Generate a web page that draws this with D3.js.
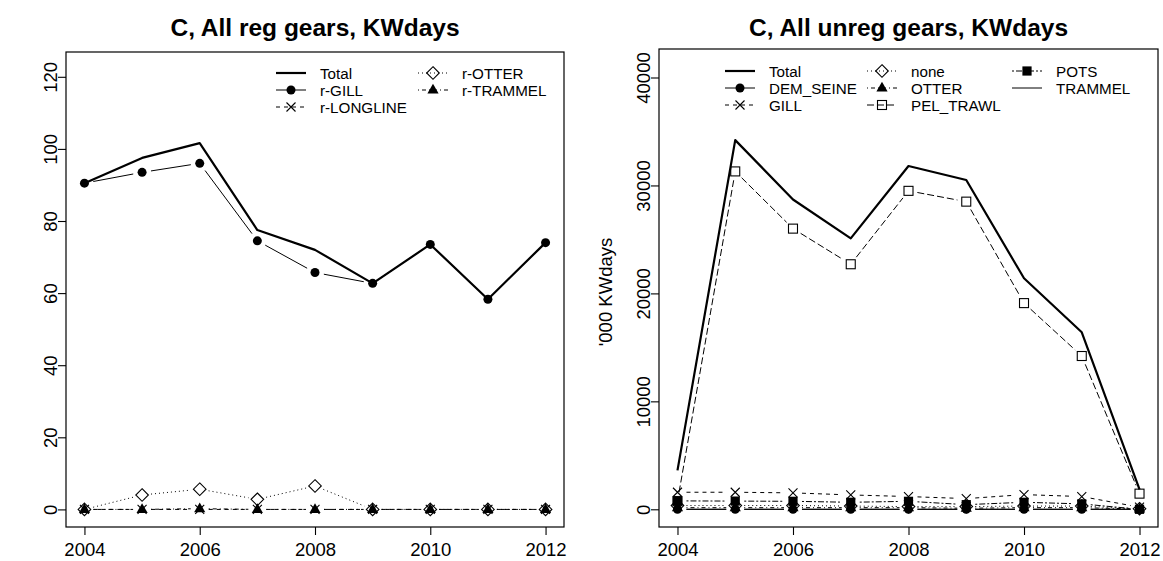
<!DOCTYPE html>
<html><head><meta charset="utf-8">
<script src="https://cdn.jsdelivr.net/npm/d3@7"></script>
<style>body{margin:0;background:#fff} svg{display:block} text{font-family:"Liberation Sans",Arial,sans-serif;fill:#000}</style>
</head><body>
<svg id="c" width="1163" height="561"></svg>
<script>
// ---------- data ----------
const years = [2004, 2005, 2006, 2007, 2008, 2009, 2010, 2011, 2012];
const xTicks = [2004, 2006, 2008, 2010, 2012];

// left panel: regulated gears ('000 KWdays)
const regTotal    = [90.5, 97.5, 101.6, 77.5, 72.0, 62.7, 73.5, 58.3, 74.0];
const regGill     = [90.5, 93.5, 96.0, 74.5, 65.7, 62.7, 73.5, 58.3, 74.0];
const regLongline = [0, 0, 0, 0, 0, 0, 0, 0, 0];
const regOtter    = [0, 4.0, 5.6, 2.8, 6.5, 0, 0, 0, 0];
const regTrammel  = [0, 0, 0.2, 0, 0, 0, 0, 0, 0];
const regYTicks = [0, 20, 40, 60, 80, 100, 120];

// right panel: unregulated gears ('000 KWdays)
const unregTotal    = [3600, 34200, 28700, 25100, 31800, 30500, 21400, 16400, 1850];
const unregDemSeine = [0, 0, 0, 0, 0, 0, 0, 0, 0];
const unregGill     = [1580, 1580, 1520, 1330, 1180, 990, 1360, 1180, 200];
const unregNone     = [350, 350, 350, 300, 250, 250, 300, 300, 50];
const unregOtter    = [150, 150, 150, 150, 150, 100, 150, 150, 30];
const unregPelTrawl = [750, 31300, 26000, 22700, 29500, 28500, 19100, 14200, 1450];
const unregPots     = [780, 760, 740, 650, 740, 430, 650, 500, 0];
const unregTrammel  = [0, 0, 0, 0, 0, 0, 0, 0, 0];
const unregYTicks = [0, 10000, 20000, 30000, 40000];

// ---------- styles ----------
const LTY = {1: null, 2: "4,4", 3: "1,3", 4: "1,3,4,3", 5: "7,3", 6: "2,2,6,2"};

const svg = d3.select("#c");

function marker(g, type, x, y) {
  if (!type) return;
  if (type === "dot") g.append("circle").attr("cx", x).attr("cy", y).attr("r", 4.5).attr("fill", "#000");
  else if (type === "x") g.append("path").attr("d", `M${x-4.5},${y-4.5}L${x+4.5},${y+4.5}M${x-4.5},${y+4.5}L${x+4.5},${y-4.5}`).attr("stroke", "#000").attr("stroke-width", 1.1).attr("fill", "none");
  else if (type === "diamond") g.append("path").attr("d", `M${x},${y-6.3}L${x+6.3},${y}L${x},${y+6.3}L${x-6.3},${y}Z`).attr("stroke", "#000").attr("stroke-width", 1.1).attr("fill", "none");
  else if (type === "tri") g.append("path").attr("d", `M${x},${y-6.2}L${x+5.6},${y+3.6}L${x-5.6},${y+3.6}Z`).attr("fill", "#000");
  else if (type === "square") g.append("rect").attr("x", x-4.5).attr("y", y-4.5).attr("width", 9).attr("height", 9).attr("stroke", "#000").attr("stroke-width", 1.1).attr("fill", "none");
  else if (type === "fsquare") g.append("rect").attr("x", x-4.6).attr("y", y-4.6).attr("width", 9.2).attr("height", 9.2).attr("fill", "#000");
}

function panel(cfg) {
  const {left, right, top, bottom, ymax, yTicks, series, title, ylab, legend} = cfg;
  const xr = 2012 - 2004, yr = ymax;
  const x = d3.scaleLinear().domain([2004 - 0.04*xr, 2012 + 0.04*xr]).range([left, right]);
  const y = d3.scaleLinear().domain([-0.04*yr, ymax + 0.04*yr]).range([bottom, top]);
  const g = svg.append("g");

  // series
  const gap = 9;
  series.forEach(s => {
    const pts = years.map((yy, i) => [x(yy), y(s.values[i])]);
    const sg = g.append("g");
    if (s.type === "l") {
      sg.append("path").attr("d", d3.line()(pts)).attr("fill", "none")
        .attr("stroke", "#000").attr("stroke-width", s.lwd)
        .attr("stroke-dasharray", LTY[s.lty]).attr("stroke-linejoin", "round");
    } else {
      for (let i = 0; i < pts.length - 1; i++) {
        const [x0, y0] = pts[i], [x1, y1] = pts[i+1];
        const dx = x1 - x0, dy = y1 - y0, d = Math.hypot(dx, dy);
        if (d <= 2*gap) continue;
        const ux = dx/d, uy = dy/d;
        sg.append("line").attr("x1", x0 + ux*gap).attr("y1", y0 + uy*gap)
          .attr("x2", x1 - ux*gap).attr("y2", y1 - uy*gap)
          .attr("stroke", "#000").attr("stroke-width", s.lwd)
          .attr("stroke-dasharray", LTY[s.lty]);
      }
      pts.forEach(p => marker(sg, s.pch, p[0], p[1]));
    }
  });

  // frame
  g.append("rect").attr("x", left).attr("y", top).attr("width", right-left).attr("height", bottom-top)
    .attr("fill", "none").attr("stroke", "#000").attr("stroke-width", 1.2);

  // x axis
  const xa = g.append("g").attr("transform", `translate(0,${bottom})`)
    .call(d3.axisBottom(x).tickValues(xTicks).tickFormat(d3.format("d")).tickSize(8).tickPadding(8));
  xa.select(".domain").remove();
  xa.selectAll("line").attr("stroke", "#000").attr("stroke-width", 1.1);
  xa.selectAll("text").attr("font-size", 18.5).attr("font-family", "Liberation Sans, Arial, sans-serif").attr("fill", "#000");

  // y axis
  const ya = g.append("g").attr("transform", `translate(${left},0)`)
    .call(d3.axisLeft(y).tickValues(yTicks).tickFormat(d3.format("d")).tickSize(8).tickPadding(0));
  ya.select(".domain").remove();
  ya.selectAll("line").attr("stroke", "#000").attr("stroke-width", 1.1);
  ya.selectAll("text").attr("font-size", 18.5).attr("font-family", "Liberation Sans, Arial, sans-serif").attr("fill", "#000")
    .attr("x", null).attr("dy", null).attr("text-anchor", "middle")
    .attr("transform", "translate(-9,0) rotate(-90)").attr("y", 0);

  // title
  g.append("text").attr("x", (left+right)/2).attr("y", 36).attr("text-anchor", "middle")
    .attr("font-size", 24.5).attr("font-weight", "bold").text(title);

  if (ylab) {
    g.append("text").attr("transform", `translate(${ylab.x},${(top+bottom)/2 + 4}) rotate(-90)`)
      .attr("text-anchor", "middle").attr("font-size", 18.5).text(ylab.text);
  }

  // legend
  legend.cols.forEach((col, ci) => {
    col.forEach((s, ri) => {
      const cy = legend.y0 + ri*legend.dy, cx = legend.cx[ci];
      g.append("line").attr("x1", cx-15).attr("x2", cx+15).attr("y1", cy).attr("y2", cy)
        .attr("stroke", "#000").attr("stroke-width", s.lwd).attr("stroke-dasharray", LTY[s.lty]);
      marker(g, s.pch, cx, cy);
      g.append("text").attr("x", cx + 29).attr("y", cy + 5.5).attr("font-size", 15.2).text(s.name);
    });
  });
}

// left
const sTotalL = {name: "Total", values: regTotal, lty: 1, lwd: 2.2, pch: null, type: "l"};
const sGillL = {name: "r-GILL", values: regGill, lty: 1, lwd: 1, pch: "dot", type: "b"};
const sLongL = {name: "r-LONGLINE", values: regLongline, lty: 2, lwd: 1, pch: "x", type: "b"};
const sOtterL = {name: "r-OTTER", values: regOtter, lty: 3, lwd: 1, pch: "diamond", type: "b"};
const sTramL = {name: "r-TRAMMEL", values: regTrammel, lty: 4, lwd: 1, pch: "tri", type: "b"};
panel({
  left: 66, right: 564, top: 52, bottom: 527, ymax: 122, yTicks: regYTicks,
  series: [sTotalL, sGillL, sLongL, sOtterL, sTramL],
  title: "C, All reg gears, KWdays", ylab: null,
  legend: {y0: 73, dy: 17, cx: [291, 433], cols: [[sTotalL, sGillL, sLongL], [sOtterL, sTramL]]}
});

// right
const sTotalR = {name: "Total", values: unregTotal, lty: 1, lwd: 2.2, pch: null, type: "l"};
const sDemR = {name: "DEM_SEINE", values: unregDemSeine, lty: 1, lwd: 1, pch: "dot", type: "b"};
const sGillR = {name: "GILL", values: unregGill, lty: 2, lwd: 1, pch: "x", type: "b"};
const sNoneR = {name: "none", values: unregNone, lty: 3, lwd: 1, pch: "diamond", type: "b"};
const sOtterR = {name: "OTTER", values: unregOtter, lty: 4, lwd: 1, pch: "tri", type: "b"};
const sPelR = {name: "PEL_TRAWL", values: unregPelTrawl, lty: 5, lwd: 1, pch: "square", type: "b"};
const sPotsR = {name: "POTS", values: unregPots, lty: 6, lwd: 1, pch: "fsquare", type: "b"};
const sTramR = {name: "TRAMMEL", values: unregTrammel, lty: 1, lwd: 1, pch: null, type: "b"};
panel({
  left: 659, right: 1158, top: 49, bottom: 527, ymax: 41000, yTicks: unregYTicks,
  series: [sTotalR, sDemR, sGillR, sNoneR, sOtterR, sPelR, sPotsR, sTramR],
  title: "C, All unreg gears, KWdays", ylab: {x: 612, text: "'000 KWdays"},
  legend: {y0: 71, dy: 17, cx: [740, 882, 1027], cols: [[sTotalR, sDemR, sGillR], [sNoneR, sOtterR, sPelR], [sPotsR, sTramR]]}
});
</script>
</body></html>
